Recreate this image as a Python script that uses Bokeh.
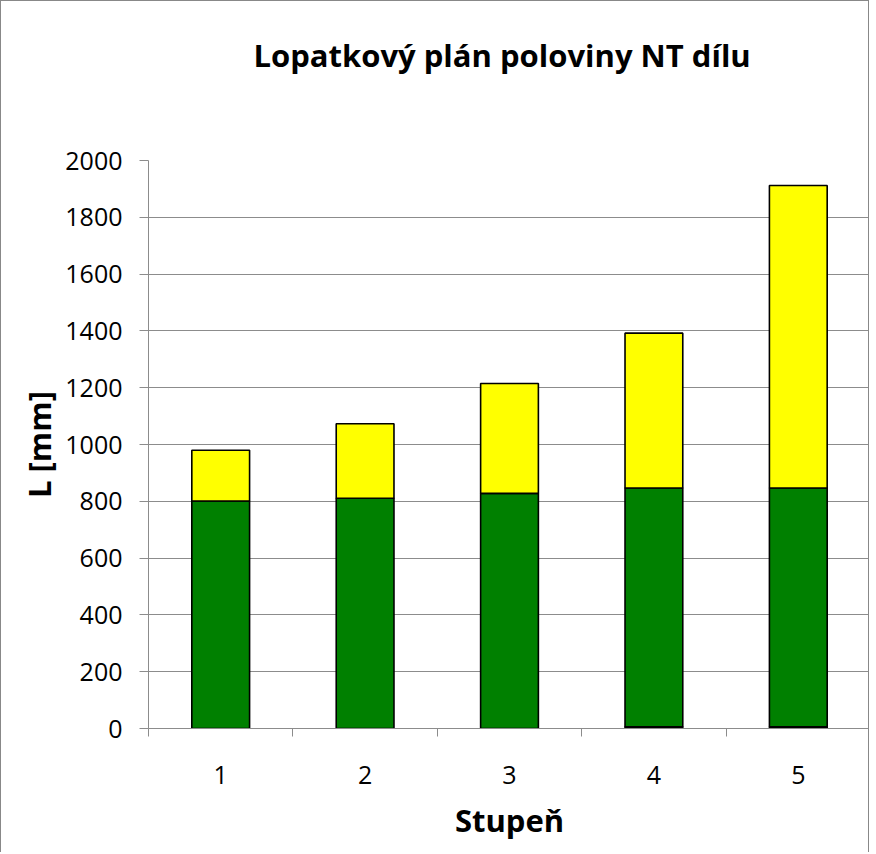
from bokeh.plotting import figure
from bokeh.models import FixedTicker, Range1d, ColumnDataSource, Title
from bokeh.embed import file_html
from bokeh.resources import INLINE

# data
stages = [1, 2, 3, 4, 5]
dark = [0, 0, 0, 6, 6]
green = [801, 811, 828, 841, 841]
yellow = [179, 262, 387, 545, 1065]
y_ticks = list(range(0, 2001, 200))
title_text = "Lopatkový plán poloviny NT dílu"
x_label = "Stupeň"
y_label = "L [mm]"

src = ColumnDataSource(dict(x=stages, dark=dark, green=green, yellow=yellow))

FONT = "Open Sans"
GRAY = "#8c8c8c"

p = figure(width=869, height=852,
           x_range=Range1d(stages[0] - 0.5, stages[-1] + 0.5),
           y_range=Range1d(0, 2000),
           output_backend="svg", toolbar_location=None,
           min_border_left=147, min_border_right=0,
           min_border_top=159, min_border_bottom=125)

p.vbar_stack(["dark", "green", "yellow"], x="x", width=0.4, source=src,
             fill_color=["#000000", "#008000", "#FFFF00"],
             line_color="black", line_width=1.6)

# default (empty) title kept tiny
p.title.text_font_size = "1px"
p.title.standoff = 0

# spacer next to the frame, then the real chart title above it
p.add_layout(Title(text=" ", text_font_size="1px", standoff=82), "above")
p.add_layout(Title(text=title_text, text_font=FONT, text_font_size="31px",
                   text_font_style="bold", text_color="black",
                   align="left", offset=105, standoff=0), "above")

p.outline_line_color = None
p.xgrid.grid_line_color = None
p.ygrid.grid_line_color = GRAY
p.ygrid.grid_line_width = 1

# x axis
p.xaxis.ticker = FixedTicker(ticks=stages,
                             minor_ticks=[s - 0.5 for s in stages] + [stages[-1] + 0.5])
p.xaxis.major_tick_out = 0
p.xaxis.major_tick_in = 0
p.xaxis.minor_tick_out = 8
p.xaxis.minor_tick_in = 0
p.xaxis.minor_tick_line_color = GRAY
p.xaxis.axis_line_color = GRAY
p.xaxis.major_label_standoff = 29
p.xaxis.major_label_text_font = FONT
p.xaxis.major_label_text_font_size = "25px"
p.xaxis.major_label_text_color = "black"
p.xaxis.axis_label = x_label
p.xaxis.axis_label_text_font = FONT
p.xaxis.axis_label_text_font_size = "31px"
p.xaxis.axis_label_text_font_style = "bold"
p.xaxis.axis_label_text_color = "black"
p.xaxis.axis_label_standoff = 12

# y axis
p.yaxis.ticker = FixedTicker(ticks=y_ticks)
p.yaxis.minor_tick_line_color = None
p.yaxis.major_tick_out = 9
p.yaxis.major_tick_in = 0
p.yaxis.major_tick_line_color = GRAY
p.yaxis.axis_line_color = GRAY
p.yaxis.major_label_standoff = 17
p.yaxis.major_label_text_font = FONT
p.yaxis.major_label_text_font_size = "25px"
p.yaxis.major_label_text_color = "black"
p.yaxis.axis_label = y_label
p.yaxis.axis_label_text_font = FONT
p.yaxis.axis_label_text_font_size = "31px"
p.yaxis.axis_label_text_font_style = "bold"
p.yaxis.axis_label_text_color = "black"
p.yaxis.axis_label_standoff = 2

p.styles = {"border-left": "1px solid #888888", "border-top": "1px solid #888888",
            "border-right": "1px solid #888888"}

open("out.html", "w").write(file_html(p, INLINE))
